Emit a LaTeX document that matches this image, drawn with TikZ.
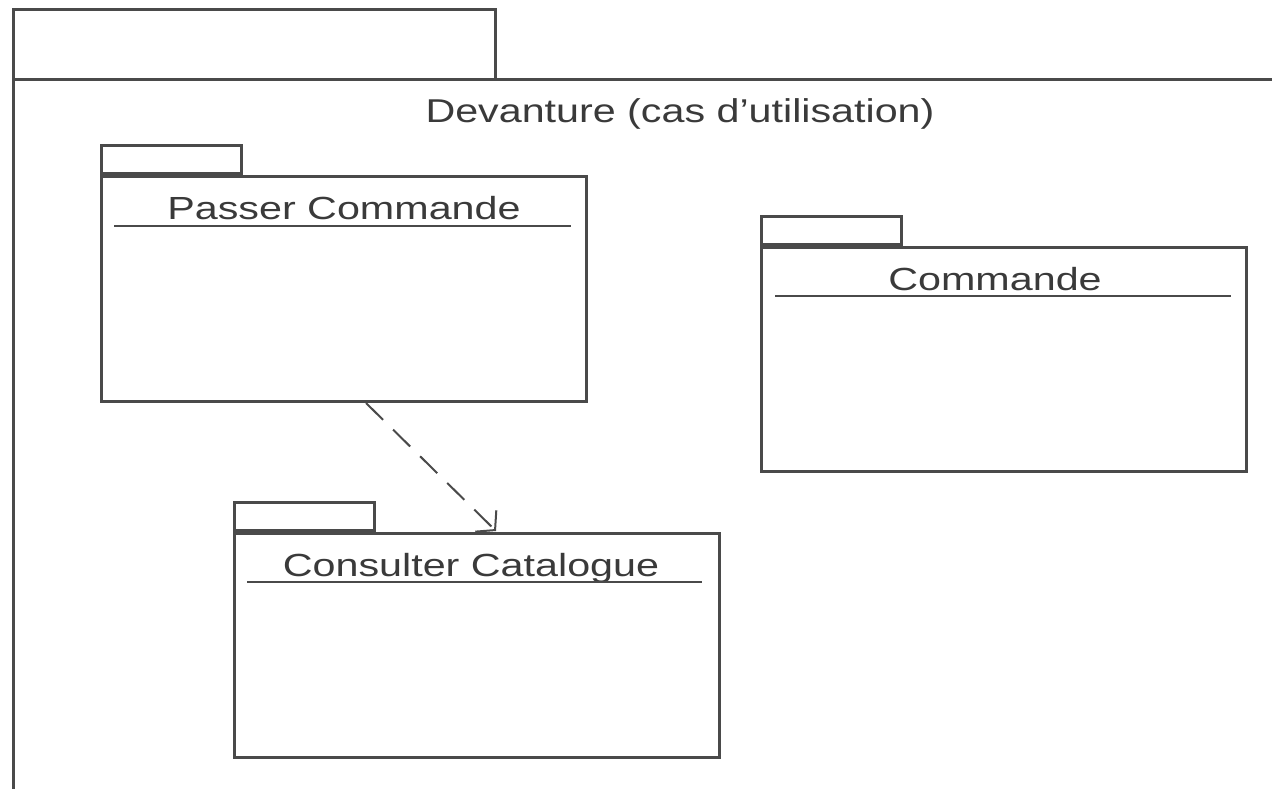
\documentclass[tikz,border=0pt]{standalone}
\usepackage{fontspec}
\setmainfont{Liberation Sans}
\usetikzlibrary{arrows.meta,calc}
\definecolor{ln}{HTML}{4A4A4A}
\definecolor{tx}{HTML}{3A3A3A}
\tikzset{
  pkg/.style={draw=ln, line width=3pt, rectangle, minimum width=485pt, anchor=north west, inner sep=0pt},
  tabbox/.style={draw=ln, line width=3pt, rectangle, minimum width=140pt, minimum height=28pt, anchor=south west, inner sep=0pt},
  lbl/.style={text=tx, anchor=base, inner sep=0pt, font=\fontsize{32}{38}\selectfont},
  uline/.style={draw=ln, line width=2.5pt},
  frame/.style={draw=ln, line width=3pt},
  dep/.style={draw=ln, line width=2pt, dash pattern=on 24pt off 14pt, -{Straight Barb[length=13pt,width=30pt,line width=2pt]}}
}
\begin{document}
\begin{tikzpicture}[x=1pt,y=-1pt]
\useasboundingbox (0,0) rectangle (1272,788);
% outer package frame
\coordinate (ftl) at (13,9);
\coordinate (ftr) at (495,9);
\coordinate (fbr) at (495,79);
\coordinate (fml) at (13,79);
\coordinate (fbl) at (13,800);
\coordinate (fre) at (1290,79);
\draw[frame] (fml) -- (ftl) -- (ftr) -- (fbr);
\draw[frame] (fbl) -- (fml) -- (fre);
\node[lbl, font=\fontsize{33}{38}\selectfont] (title) at (680,122) {\scalebox{1.25}[1]{Devanture (cas d'utilisation)}};

% Passer Commande
\node[pkg, minimum height=225pt] (pc) at (100,175) {};
\node[tabbox] (pctab) at (pc.north west) {};
\node[lbl] (pcl) at (344,219) {\scalebox{1.29}[1]{Passer Commande}};
\draw[uline] ($(pc.north west)+(14,51)$) -- ($(pc.north east)+(-17,51)$);

% Commande
\node[pkg, minimum height=224pt] (cm) at (760,246) {};
\node[tabbox] (cmtab) at (cm.north west) {};
\node[lbl] (cml) at (995,290) {\scalebox{1.29}[1]{Commande}};
\draw[uline] ($(cm.north west)+(15,50)$) -- ($(cm.north east)+(-17,50)$);

% Consulter Catalogue
\node[pkg, minimum height=224pt] (cc) at (233,532) {};
\node[tabbox] (cctab) at (cc.north west) {};
\node[lbl] (ccl) at (471,576) {\scalebox{1.29}[1]{Consulter Catalogue}};
\draw[uline] ($(cc.north west)+(14,50)$) -- ($(cc.north east)+(-19,50)$);

% dependency
\draw[dep] ($(pc.south west)+(266,0)$) -- ($(cc.north west)+(263,-1)$);
\end{tikzpicture}
\end{document}
